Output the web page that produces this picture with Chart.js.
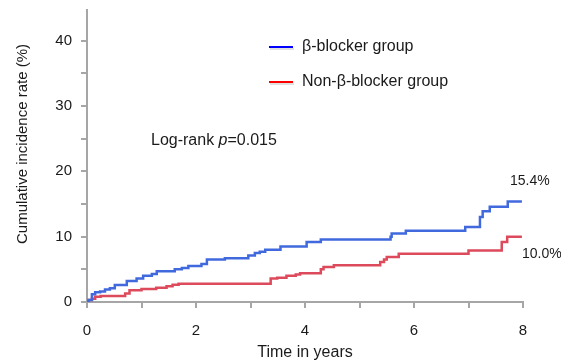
<!DOCTYPE html>
<html>
<head>
<meta charset="utf-8">
<script src="https://cdn.jsdelivr.net/npm/chart.js@4/dist/chart.umd.min.js"></script>
<style>
  html, body { margin: 0; padding: 0; background: #fff; }
  #wrap { width: 561px; height: 362px; }
</style>
</head>
<body>
<div id="wrap"><canvas id="kmChart" width="561" height="362"></canvas></div>
<script>
// Series (time in years, cumulative incidence %)
const seriesNames = ['β-blocker group', 'Non-β-blocker group'];
const blockerTimes = [0, 0.03, 0.09, 0.15, 0.24, 0.33, 0.42, 0.51, 0.73, 0.91, 1.03, 1.19, 1.28, 1.61, 1.74, 1.86, 2.10, 2.20, 2.53, 2.96, 3.08, 3.17, 3.27, 3.55, 4.03, 4.29, 5.57, 5.59, 5.85, 6.94, 7.21, 7.26, 7.39, 7.72, 7.98];
const blockerRates = [0, 0.3, 1.2, 1.5, 1.6, 1.9, 2.1, 2.6, 3.2, 3.6, 4.0, 4.3, 4.7, 5.0, 5.2, 5.5, 5.8, 6.5, 6.7, 7.1, 7.5, 7.7, 8.0, 8.5, 9.2, 9.55, 10.0, 10.5, 10.9, 11.5, 13.0, 13.9, 14.6, 15.4, 15.4];
const nonBlockerTimes = [0, 0.03, 0.09, 0.15, 0.25, 0.70, 0.78, 1.00, 1.27, 1.46, 1.57, 1.68, 3.37, 3.49, 3.66, 3.83, 3.91, 4.29, 4.34, 4.53, 5.38, 5.45, 5.50, 5.72, 7.00, 7.61, 7.71, 7.98];
const nonBlockerRates = [0, 0.3, 0.5, 0.8, 0.9, 1.3, 1.8, 2.0, 2.2, 2.4, 2.65, 2.8, 3.6, 3.7, 4.0, 4.2, 4.4, 5.0, 5.37, 5.62, 6.13, 6.5, 6.9, 7.4, 7.9, 9.2, 10.0, 10.0];
const xTicks = [0, 2, 4, 6, 8];
const yTicks = [0, 10, 20, 30, 40];
const logRankP = '0.015';

const FONT = "'Liberation Sans', Arial, Helvetica, sans-serif";
const AXIS_GREY = '#a6a6a6';

function toPoints(times, rates) {
  return times.map((t, i) => ({ x: t, y: rates[i] }));
}

// legend, annotations and y title drawn on top of the chart
const overlay = {
  id: 'overlay',
  afterDraw(chart) {
    const ctx = chart.ctx;
    const xs = chart.scales.x, ys = chart.scales.y;
    ctx.save();
    ctx.fillStyle = '#1a1a1a';
    ctx.textBaseline = 'middle';

    // legend
    const legendColors = ['#0000ff', '#ff0000'];
    const legendY = [47, 82];
    seriesNames.forEach((name, i) => {
      ctx.strokeStyle = 'rgba(0,0,0,0.12)';
      ctx.lineWidth = 2;
      ctx.beginPath(); ctx.moveTo(270, legendY[i] + 2); ctx.lineTo(294, legendY[i] + 2); ctx.stroke();
      ctx.strokeStyle = legendColors[i];
      ctx.beginPath(); ctx.moveTo(269, legendY[i]); ctx.lineTo(293, legendY[i]); ctx.stroke();
      ctx.font = '16px ' + FONT;
      ctx.textAlign = 'left';
      ctx.fillText(name, 302, legendY[i]);
    });

    // log-rank annotation with italic p
    let tx = 151;
    const ty = 141;
    ctx.font = '16px ' + FONT;
    ctx.fillText('Log-rank ', tx, ty);
    tx += ctx.measureText('Log-rank ').width;
    ctx.font = 'italic 16px ' + FONT;
    ctx.fillText('p', tx, ty);
    tx += ctx.measureText('p').width;
    ctx.font = '16px ' + FONT;
    ctx.fillText('=' + logRankP, tx, ty);

    // final values
    ctx.font = '14px ' + FONT;
    const endX = xs.getPixelForValue(8);
    const bEnd = blockerRates[blockerRates.length - 1];
    const nEnd = nonBlockerRates[nonBlockerRates.length - 1];
    ctx.fillText(bEnd.toFixed(1) + '%', endX - 13, ys.getPixelForValue(bEnd) - 20);
    ctx.fillText(nEnd.toFixed(1) + '%', endX - 1, ys.getPixelForValue(nEnd) + 17);

    // y axis title
    ctx.translate(23, 144);
    ctx.rotate(-Math.PI / 2);
    ctx.textAlign = 'center';
    ctx.font = '15px ' + FONT;
    ctx.fillText('Cumulative incidence rate (%)', 0, 0);
    ctx.restore();
  }
};

const ctx = document.getElementById('kmChart').getContext('2d');
const kmChart = new Chart(ctx, {
  type: 'line',
  data: {
    datasets: [{
      label: seriesNames[0],
      data: toPoints(blockerTimes, blockerRates),
      borderColor: '#4169de',
      borderWidth: 2.5,
      stepped: 'before',
      pointRadius: 0,
      fill: false
    }, {
      label: seriesNames[1],
      data: toPoints(nonBlockerTimes, nonBlockerRates),
      borderColor: '#dc4a5c',
      borderWidth: 2.5,
      stepped: 'before',
      pointRadius: 0,
      fill: false
    }]
  },
  options: {
    responsive: false,
    animation: false,
    layout: {
      padding: { top: 10, right: 38, left: 0, bottom: 0 }
    },
    plugins: {
      legend: { display: false },
      tooltip: { enabled: false }
    },
    scales: {
      x: {
        type: 'linear',
        min: 0,
        max: 8,
        afterFit: scale => {
          scale.height = 60;
          scale.paddingLeft = 0;
          scale.paddingRight = 0;
        },
        ticks: {
          stepSize: 1,
          autoSkip: false,
          maxRotation: 0,
          padding: 14,
          color: '#1a1a1a',
          font: { family: FONT, size: 15 },
          callback: val => xTicks.includes(val) ? val : ''
        },
        grid: {
          drawOnChartArea: false,
          drawTicks: true,
          tickLength: 6,
          color: AXIS_GREY,
          lineWidth: 2
        },
        border: { color: AXIS_GREY, width: 2 },
        title: {
          display: true,
          text: 'Time in years',
          color: '#1a1a1a',
          font: { family: FONT, size: 16 },
          padding: { top: 0, bottom: 0 }
        }
      },
      y: {
        min: 0,
        max: 44.7,
        afterFit: scale => {
          scale.width = 87;
          scale.paddingTop = 0;
          scale.paddingBottom = 0;
        },
        afterBuildTicks: scale => {
          scale.ticks = scale.ticks.filter(t => t.value % 5 === 0);
        },
        ticks: {
          stepSize: 5,
          autoSkip: false,
          padding: 9,
          color: '#1a1a1a',
          font: { family: FONT, size: 15 },
          callback: val => yTicks.includes(val) ? val : ''
        },
        grid: {
          drawOnChartArea: false,
          drawTicks: true,
          tickLength: 6,
          color: AXIS_GREY,
          lineWidth: 2
        },
        border: { color: AXIS_GREY, width: 2 }
      }
    }
  },
  plugins: [overlay]
});
</script>
</body>
</html>
